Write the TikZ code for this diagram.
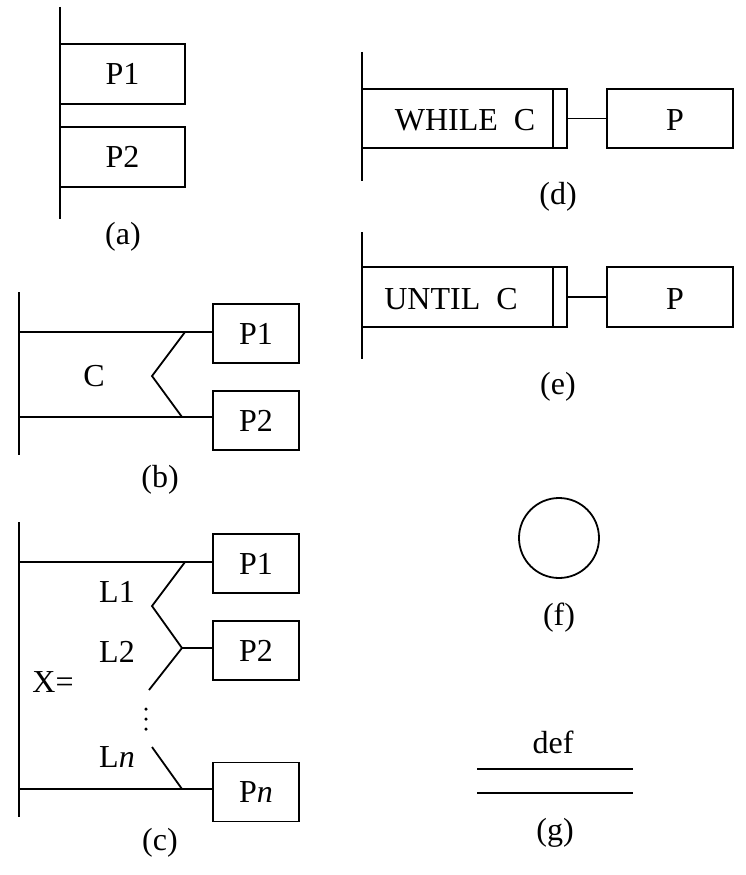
\documentclass[tikz,border=0pt]{standalone}
\usepackage{fontspec}
\setmainfont{Liberation Serif}
\usetikzlibrary{calc}
\begin{document}
\begin{tikzpicture}[x=1pt,y=-1pt,line width=1.8pt,
  every node/.style={font=\fontsize{32}{38}\selectfont, inner sep=0pt, outer sep=0pt},
  box/.style={draw, rectangle, minimum width=#1, minimum height=59pt},
  box/.default=86pt,
  dotmark/.style={fill, circle, minimum size=3.5pt, draw=none}]
\useasboundingbox (0,0) rectangle (746,875);
% ---------- (a)
\coordinate (aT) at (60,7); \coordinate (aB) at (60,219);
\draw (aT) -- (aB);
\node[box=125pt, minimum height=60pt] (ap1) at (122.5,74) {P1};
\node[box=125pt, minimum height=60pt] (ap2) at (122.5,157) {P2};
\node (al) at (123,237) {(a)};
% ---------- (b)
\coordinate (bT) at (19,292); \coordinate (bB) at (19,455);
\draw (bT) -- (bB);
\node[box] (bp1) at (256,333.5) {P1};
\node[box] (bp2) at (256,420.5) {P2};
\coordinate (bL1) at (19,332); \coordinate (bL2) at (19,417);
\draw (bL1) -- (bL1 -| bp1.west);
\draw (bL2) -- (bL2 -| bp2.west);
\coordinate (bz1) at (185,332); \coordinate (bz2) at (152,376); \coordinate (bz3) at (182,417);
\draw (bz1) -- (bz2) -- (bz3);
\node (bc) at (94,376) {C};
\node (bl) at (160,480) {(b)};
% ---------- (c)
\coordinate (cT) at (19,522); \coordinate (cB) at (19,817);
\draw (cT) -- (cB);
\node[box] (cp1) at (256,563.5) {P1};
\node[box] (cp2) at (256,650.5) {P2};
\node[box] (cpn) at (256,792) {P\textit{n}};
\coordinate (cL1) at (19,562); \coordinate (cLn) at (19,789);
\draw (cL1) -- (cL1 -| cp1.west);
\draw (cLn) -- (cLn -| cpn.west);
\coordinate (cz1) at (185,562); \coordinate (cz2) at (152,606);
\coordinate (cz3) at (182,648); \coordinate (cz4) at (149,690);
\draw (cz1) -- (cz2) -- (cz3) -- (cz4);
\draw (cz3) -- (cz3 -| cp2.west);
\coordinate (cz5) at (152,747); \coordinate (cz6) at (182,789);
\draw (cz5) -- (cz6);
\node[dotmark] (cd1) at (146,709) {};
\node[dotmark] (cd2) at (146,719) {};
\node[dotmark] (cd3) at (146,729) {};
\node (cl1) at (117,592) {L1};
\node (cl2) at (117,652) {L2};
\node (clx) at (53,682) {X=};
\node (cln) at (117,757) {L\textit{n}};
\node (cl) at (160,843) {(c)};
% ---------- (d)
\coordinate (dT) at (362,52); \coordinate (dB) at (362,181);
\draw (dT) -- (dB);
\node[box=205pt] (dw) at (464.5,118.5) {};
\node (dwt) at (465,120) {WHILE~~C};
\draw ($(dw.north east)+(-14,0)$) -- ($(dw.south east)+(-14,0)$);
\node[box=126pt] (dp) at (670,118.5) {};
\node (dpt) at (675,120) {P};
\draw (dw.east) -- (dp.west);
\node (dl) at (558,197) {(d)};
% ---------- (e)
\coordinate (eT) at (362,232); \coordinate (eB) at (362,359);
\draw (eT) -- (eB);
\node[box=205pt, minimum height=60pt] (ew) at (464.5,297) {};
\node (ewt) at (451,299) {UNTIL~~C};
\draw ($(ew.north east)+(-14,0)$) -- ($(ew.south east)+(-14,0)$);
\node[box=126pt, minimum height=60pt] (ep) at (670,297) {};
\node (ept) at (675,299) {P};
\draw (ew.east) -- (ep.west);
\node (el) at (558,387) {(e)};
% ---------- (f)
\node[draw, circle, minimum size=80pt] (fc) at (559,538) {};
\node (fl) at (559,618) {(f)};
% ---------- (g)
\coordinate (g1a) at (477,769); \coordinate (g1b) at (633,769);
\coordinate (g2a) at (477,793); \coordinate (g2b) at (633,793);
\draw (g1a) -- (g1b);
\draw (g2a) -- (g2b);
\node (gd) at (553,742) {def};
\node (gl) at (555,833) {(g)};
\end{tikzpicture}
\end{document}
